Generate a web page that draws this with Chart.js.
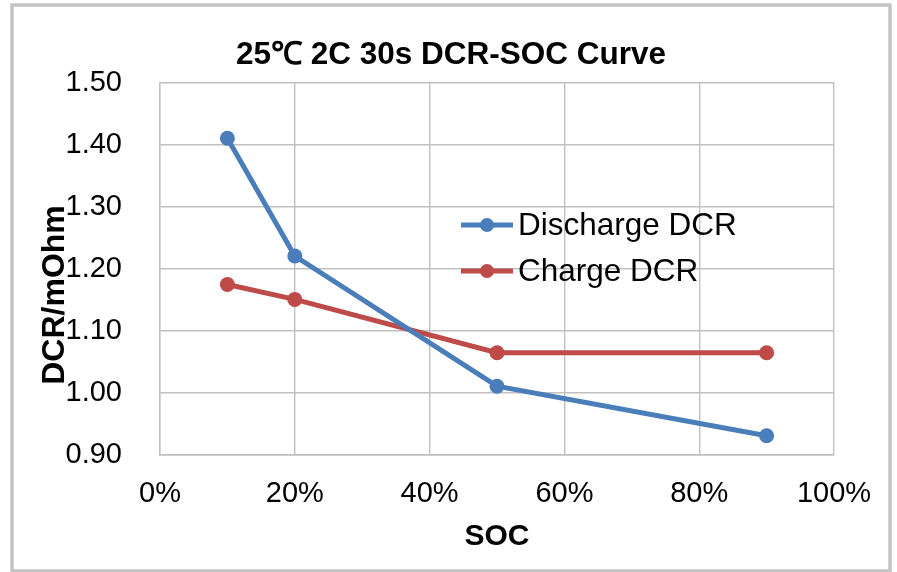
<!DOCTYPE html>
<html>
<head>
<meta charset="utf-8">
<script src="https://cdn.jsdelivr.net/npm/chart.js@4.4.1/dist/chart.umd.min.js"></script>
<style>
  html, body { margin: 0; padding: 0; background: #ffffff; }
  #wrap { position: relative; width: 897px; height: 572px; }
</style>
</head>
<body>
<div id="wrap"><canvas id="c" width="897" height="572"></canvas></div>
<script>
// ---- data ----
const chartTitle = "25℃ 2C 30s DCR-SOC Curve";
const xAxisTitle = "SOC";
const yAxisTitle = "DCR/mOhm";
const socValues = [0.10, 0.20, 0.50, 0.90];
const dischargeDCR = [1.411, 1.221, 1.011, 0.931];
const chargeDCR = [1.175, 1.151, 1.065, 1.065];
const seriesNames = ["Discharge DCR", "Charge DCR"];
const seriesColors = ["#4a7ebb", "#be4b48"];
const yTicksMin = 0.90, yTicksMax = 1.50, yStep = 0.10;
const xTicksMin = 0, xTicksMax = 1, xStep = 0.20;

const FONT = "'Liberation Sans', Arial, Helvetica, sans-serif";

function toPoints(xs, ys) { return xs.map((x, i) => ({ x: x, y: ys[i] })); }

const decorPlugin = {
  id: 'decor',
  beforeDraw(chart) {
    const ctx = chart.ctx;
    ctx.save();
    ctx.fillStyle = '#ffffff';
    ctx.fillRect(0, 0, chart.width, chart.height);
    ctx.strokeStyle = '#c4c4c4';
    ctx.lineWidth = 3.5;
    ctx.strokeRect(12, 5, 878, 566);
    ctx.restore();
  },
  afterDraw(chart) {
    const ctx = chart.ctx;
    const ca = chart.chartArea;
    ctx.save();
    ctx.fillStyle = '#000000';
    ctx.textAlign = 'center';
    ctx.textBaseline = 'middle';
    // main title
    ctx.font = "bold 31.5px " + FONT;
    ctx.fillText(chartTitle, 451, 55);
    // x axis title
    ctx.font = "bold 30px " + FONT;
    ctx.fillText(xAxisTitle, (ca.left + ca.right) / 2, 537);
    // y axis title
    ctx.save();
    ctx.translate(55, 295);
    ctx.rotate(-Math.PI / 2);
    ctx.font = "bold 32px " + FONT;
    ctx.fillText(yAxisTitle, 0, 0);
    ctx.restore();
    // legend
    const rows = [225, 271];
    chart.data.datasets.forEach((ds, i) => {
      const y = rows[i];
      ctx.strokeStyle = ds.borderColor;
      ctx.lineWidth = 5;
      ctx.beginPath();
      ctx.moveTo(461, y);
      ctx.lineTo(513, y);
      ctx.stroke();
      ctx.fillStyle = ds.backgroundColor;
      ctx.beginPath();
      ctx.arc(487, y, 7, 0, Math.PI * 2);
      ctx.fill();
      ctx.fillStyle = '#000000';
      ctx.textAlign = 'left';
      ctx.font = "31.5px " + FONT;
      ctx.fillText(ds.label, 518, y + 1);
    });
    ctx.restore();
  }
};

new Chart(document.getElementById('c'), {
  type: 'line',
  data: {
    datasets: [
      {
        label: seriesNames[0],
        data: toPoints(socValues, dischargeDCR),
        borderColor: seriesColors[0],
        backgroundColor: seriesColors[0],
        borderWidth: 5,
        pointRadius: 7.5,
        pointBorderWidth: 0,
        pointBackgroundColor: seriesColors[0],
        tension: 0
      },
      {
        label: seriesNames[1],
        data: toPoints(socValues, chargeDCR),
        borderColor: seriesColors[1],
        backgroundColor: seriesColors[1],
        borderWidth: 5,
        pointRadius: 7.5,
        pointBorderWidth: 0,
        pointBackgroundColor: seriesColors[1],
        tension: 0
      }
    ]
  },
  options: {
    responsive: false,
    animation: false,
    devicePixelRatio: 1,
    layout: { padding: { left: 0, top: 83, right: 63, bottom: 0 } },
    plugins: {
      legend: { display: false },
      title: { display: false },
      tooltip: { enabled: false }
    },
    scales: {
      x: {
        type: 'linear',
        min: xTicksMin,
        max: xTicksMax,
        grid: { color: '#c0c0c0', lineWidth: 1.4, drawTicks: false },
        border: { color: '#c0c0c0', width: 1.4 },
        ticks: {
          stepSize: xStep,
          padding: 22,
          color: '#000000',
          font: { family: FONT, size: 29 },
          callback: v => Math.round(v * 100) + '%'
        },
        afterFit(scale) { scale.height = 572 - 455; }
      },
      y: {
        type: 'linear',
        min: yTicksMin,
        max: yTicksMax,
        grid: { color: '#c0c0c0', lineWidth: 1.4, drawTicks: false },
        border: { color: '#c0c0c0', width: 1.4 },
        ticks: {
          stepSize: yStep,
          padding: 38,
          color: '#000000',
          font: { family: FONT, size: 29 },
          callback: v => v.toFixed(2)
        },
        afterFit(scale) { scale.width = 160; }
      }
    }
  },
  plugins: [decorPlugin]
});
</script>
</body>
</html>
